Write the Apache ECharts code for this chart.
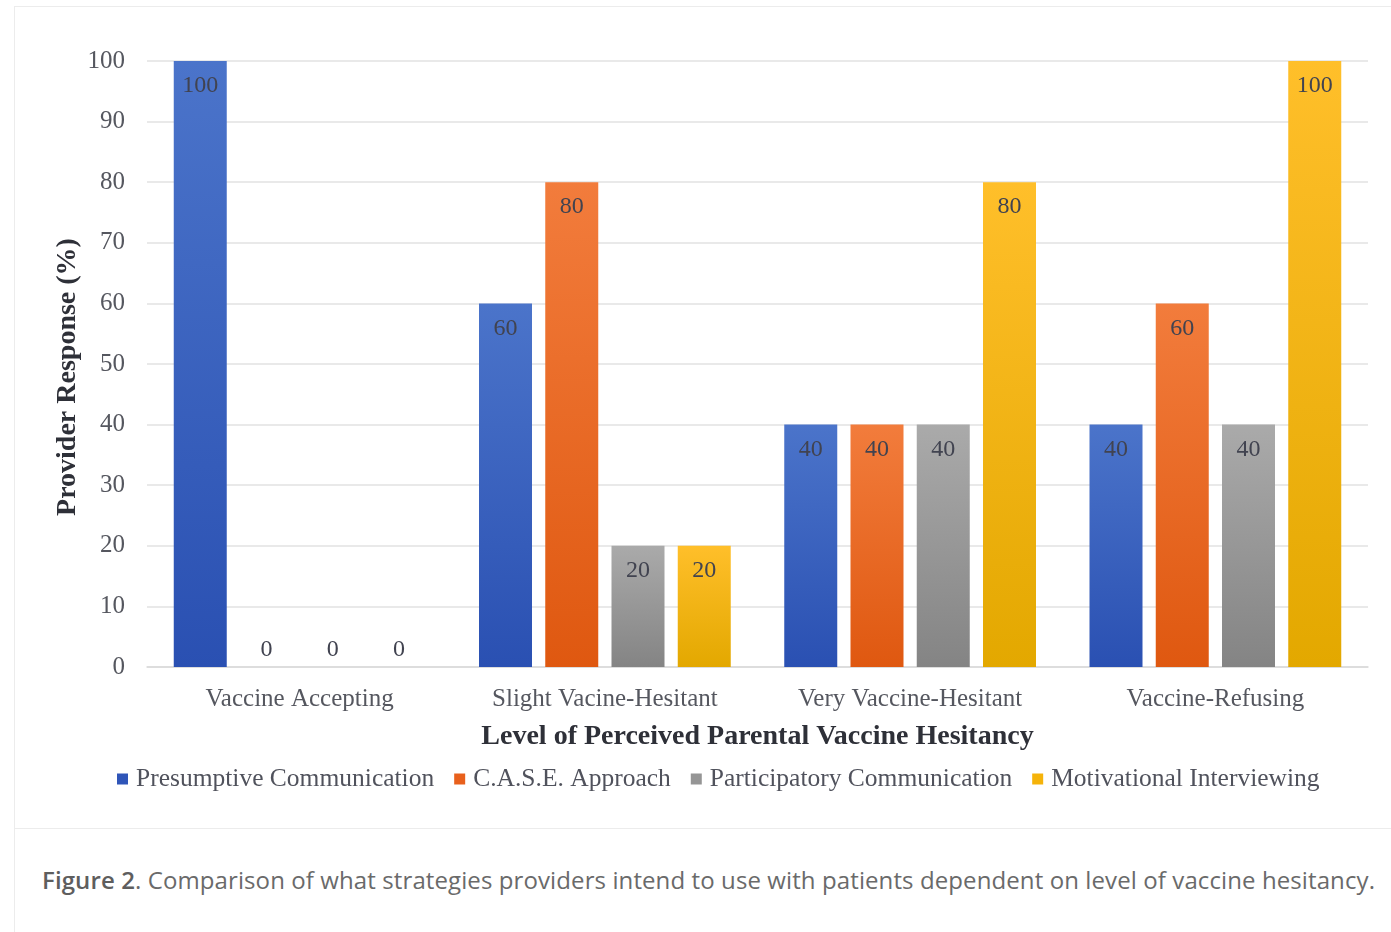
<!DOCTYPE html>
<html>
<head>
<meta charset="utf-8">
<title>Figure 2</title>
<script src="https://cdn.jsdelivr.net/npm/echarts@6/dist/echarts.min.js"></script>
<style>
  html, body { margin: 0; padding: 0; background: #ffffff; }
  body { width: 1391px; height: 932px; position: relative; overflow: hidden; }
  #card {
    position: absolute; left: 14px; top: 6px; width: 1400px; height: 960px;
    border-left: 1px solid #ececec; border-top: 1px solid #ececec;
  }
  #chart { position: absolute; left: 0; top: 0; width: 1391px; height: 828px; }
  #sep { position: absolute; left: 14px; top: 828px; width: 1377px; height: 0; border-top: 1px solid #ececec; }
  #caption {
    position: absolute; left: 42px; top: 863px; white-space: nowrap;
    font-family: "Open Sans", sans-serif; font-size: 24px; color: #6a6a6a; letter-spacing: 0.1px;
  }
  #caption b { font-weight: 600; color: #5e5e5e; }
</style>
</head>
<body>
<div id="card"></div>
<div id="chart"></div>
<div id="sep"></div>
<div id="caption"><b>Figure 2</b>. Comparison of what strategies providers intend to use with patients dependent on level of vaccine hesitancy.</div>
<script>
// Hesitancy levels on the x axis
const categories = ['Vaccine Accepting', 'Slight Vacine-Hesitant', 'Very Vaccine-Hesitant', 'Vaccine-Refusing'];

// Share of providers (%) choosing each communication strategy
const presumptive   = [100, 60, 40, 40];
const caseApproach  = [0, 80, 40, 60];
const participatory = [0, 20, 40, 40];
const motivational  = [0, 20, 80, 100];

const seriesNames = ['Presumptive Communication', 'C.A.S.E. Approach', 'Participatory Communication', 'Motivational Interviewing'];
const yTicks = [0, 10, 20, 30, 40, 50, 60, 70, 80, 90, 100];
const yTitle = 'Provider Response (%)';

const serif = '"Liberation Serif", "DejaVu Serif", serif';

// top / bottom shades of each bar fill
const fills = [
  ['#4b74ca', '#2a50b2'],
  ['#f27c3c', '#df5810'],
  ['#aaaaaa', '#848484'],
  ['#ffbf2a', '#e3a800']
];
const legendColors = ['#2f55b8', '#e8601c', '#959595', '#f5b30a'];

function barData(values) {
  // zero-height bars carry their label just above the axis
  return values.map(v => v === 0
    ? { value: v, label: { position: 'top', distance: 5 } }
    : v);
}

function makeSeries(name, values, idx) {
  return {
    name: name,
    type: 'bar',
    data: barData(values),
    barWidth: 53,
    barGap: '25%',
    itemStyle: {
      color: {
        type: 'linear', x: 0, y: 0, x2: 0, y2: 1,
        colorStops: [
          { offset: 0, color: fills[idx][0] },
          { offset: 1, color: fills[idx][1] }
        ]
      }
    },
    label: {
      show: true,
      position: 'insideTop',
      distance: 13,
      fontFamily: serif,
      fontSize: 24,
      color: '#414350'
    }
  };
}

const chart = echarts.init(document.getElementById('chart'), null, { renderer: 'canvas' });

chart.setOption({
  animation: false,
  backgroundColor: 'transparent',
  grid: { left: 147, right: 23, top: 61, bottom: 161, containLabel: false },
  // vertical axis title, set a little below the middle of the axis
  graphic: [{
    type: 'text',
    x: 68,
    y: 377,
    rotation: Math.PI / 2,
    style: {
      text: yTitle,
      fontFamily: serif,
      fontSize: 28,
      fontWeight: 'bold',
      fill: '#2e3038',
      align: 'center',
      verticalAlign: 'middle'
    }
  }],
  legend: {
    left: 112,
    top: 761,
    itemWidth: 11,
    itemHeight: 11,
    itemGap: 20,
    icon: 'rect',
    textStyle: { fontFamily: serif, fontSize: 25.5, color: '#50525c', padding: [0, 0, 0, 3] },
    data: seriesNames.map((n, i) => ({ name: n, itemStyle: { color: legendColors[i] } }))
  },
  xAxis: {
    type: 'category',
    data: categories,
    name: 'Level of Perceived Parental Vaccine Hesitancy',
    nameLocation: 'middle',
    nameGap: 56,
    nameTextStyle: { fontFamily: serif, fontSize: 28, fontWeight: 'bold', color: '#2e3038' },
    axisLine: { show: true, lineStyle: { color: '#d9d9d9', width: 1.5 } },
    axisTick: { show: false },
    axisLabel: { fontFamily: serif, fontSize: 25, color: '#55575f', margin: 20 }
  },
  yAxis: {
    type: 'value',
    min: yTicks[0],
    max: yTicks[yTicks.length - 1],
    interval: yTicks[1] - yTicks[0],
    axisLine: { show: false },
    axisTick: { show: false },
    axisLabel: { fontFamily: serif, fontSize: 25, color: '#55575f', margin: 22 },
    splitLine: { lineStyle: { color: '#e2e2e2', width: 1.5 } }
  },
  series: [
    makeSeries(seriesNames[0], presumptive, 0),
    makeSeries(seriesNames[1], caseApproach, 1),
    makeSeries(seriesNames[2], participatory, 2),
    makeSeries(seriesNames[3], motivational, 3)
  ]
});
</script>
</body>
</html>
